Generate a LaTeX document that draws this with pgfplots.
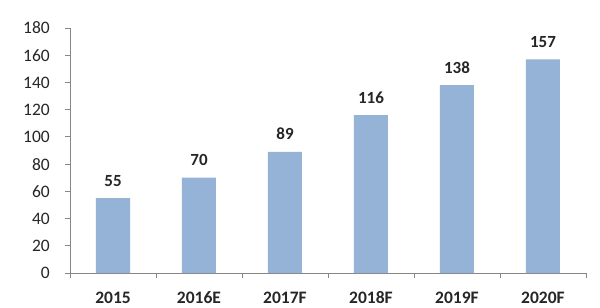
\documentclass[border=0pt]{standalone}
\usepackage{fontspec}
\setmainfont{Carlito}
\usepackage{pgfplots}
\pgfplotsset{compat=1.18}
\definecolor{barblue}{RGB}{149,179,215}
\definecolor{axgray}{RGB}{134,134,134}
\definecolor{txt}{RGB}{38,38,38}
\begin{document}
\begin{tikzpicture}[x=1pt,y=1pt]
\useasboundingbox (0,0) rectangle (600,308);
\fill[white] (0,0) rectangle (600,308);
\begin{axis}[
  at={(70pt,35pt)}, anchor=south west,
  scale only axis, width=516pt, height=245pt,
  xmin=-0.5, xmax=5.5, ymin=0, ymax=180,
  axis x line*=bottom, axis y line*=left,
  axis line style={axgray, line width=0.8pt},
  ytick={0,20,...,180},
  xtick={0,...,5},
  xticklabels={2015,2016E,2017F,2018F,2019F,2020F},
  minor xtick={-0.5,0.5,...,5.5},
  tick style={axgray, line width=0.8pt},
  major tick length=5pt, minor tick length=5pt,
  tick align=outside,
  x tick style={draw=none},
  minor x tick style={draw=axgray},
  /pgf/number format/assume math mode=true,
  yticklabel style={font=\fontsize{17.5}{20}\selectfont, text=txt, anchor=east, inner sep=0pt, xshift=-15pt},
  xticklabel style={font=\bfseries\fontsize{17.5}{20}\selectfont, text=txt, anchor=base, inner sep=0pt, yshift=-25pt},
  ybar, bar width=34pt,
  nodes near coords,
  nodes near coords style={font=\bfseries\fontsize{17}{20}\selectfont, text=txt, anchor=base, inner sep=0pt, yshift=12pt},
  clip=false,
]
\addplot[fill=barblue, draw=none] coordinates {(0,55) (1,70) (2,89) (3,116) (4,138) (5,157)};
\end{axis}
\end{tikzpicture}
\end{document}
